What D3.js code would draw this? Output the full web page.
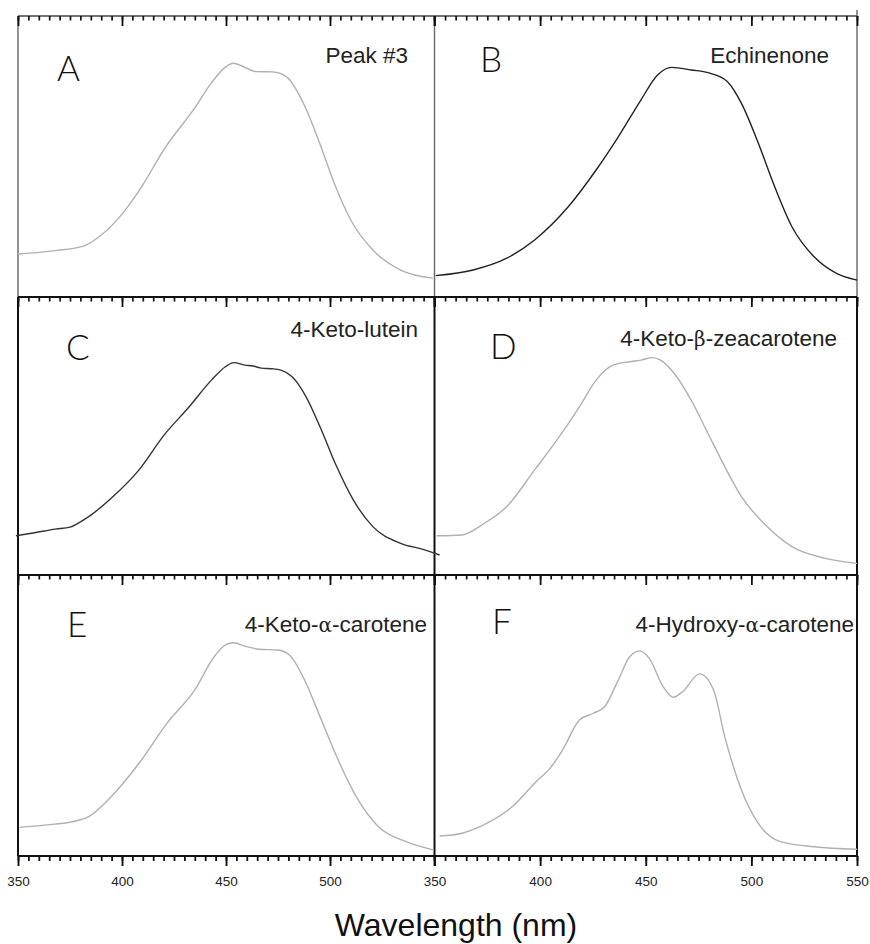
<!DOCTYPE html>
<html>
<head>
<meta charset="utf-8">
<script src="https://cdn.jsdelivr.net/npm/d3@7"></script>
<style>
  html, body { margin: 0; padding: 0; background: #fff; }
  svg { display: block; }
</style>
</head>
<body>
<svg id="chart" width="870" height="944"></svg>
<script>
// ---------- data (wavelength nm, relative absorbance) ----------
const panelLetters = ["A", "B", "C", "D", "E", "F"];
const panelNames = ["Peak #3", "Echinenone", "4-Keto-lutein", "4-Keto-β-zeacarotene", "4-Keto-α-carotene", "4-Hydroxy-α-carotene"];
const lineColors = ["#b0b0b0", "#222222", "#333333", "#b0b0b0", "#b0b0b0", "#b0b0b0"];

const spectrumA = [[350,0.153],[368,0.165],[381.5,0.181],[388,0.209],[399,0.286],[409.5,0.393],[420,0.523],[435,0.673],[443,0.762],[450,0.820],[453.7,0.832],[457.7,0.822],[464.4,0.802],[472.4,0.801],[479,0.784],[488,0.677],[495,0.548],[502,0.406],[510,0.274],[520.6,0.167],[534,0.096],[549.5,0.067]];
const spectrumB = [[350.6,0.076],[368.3,0.096],[384.2,0.138],[397.4,0.203],[413.3,0.321],[426.5,0.452],[437,0.570],[447.7,0.701],[455.6,0.790],[462.2,0.817],[471.5,0.808],[480.7,0.796],[488.7,0.766],[495.3,0.689],[503.3,0.547],[511,0.393],[519.2,0.250],[529.7,0.143],[540.3,0.084],[550,0.060]];
const spectrumC = [[349,0.141],[358,0.152],[368,0.165],[375,0.172],[378.8,0.186],[384,0.210],[394.8,0.276],[408.2,0.378],[420.3,0.504],[432.3,0.605],[443,0.701],[449.7,0.749],[453.7,0.764],[459,0.755],[463,0.752],[467,0.744],[472,0.742],[476.4,0.737],[481.8,0.713],[488.5,0.641],[495.2,0.533],[503.2,0.390],[511.2,0.270],[520.6,0.174],[534,0.114],[544.7,0.092],[552.7,0.072]];
const spectrumD = [[351,0.141],[363,0.144],[373.6,0.186],[384.2,0.246],[397.4,0.378],[408,0.486],[418.6,0.605],[426.5,0.701],[434.5,0.755],[442.4,0.767],[447.7,0.773],[453,0.782],[457,0.773],[463.5,0.725],[471.5,0.629],[479.4,0.510],[487.4,0.390],[495.3,0.282],[505.9,0.186],[519.2,0.102],[535,0.060],[550,0.042]];
const spectrumE = [[350.7,0.102],[362.8,0.110],[376,0.122],[384,0.140],[394.8,0.211],[408.2,0.330],[421.6,0.472],[435,0.591],[444.3,0.709],[449.7,0.751],[453.7,0.759],[459,0.747],[465.7,0.736],[475,0.733],[480.5,0.715],[488.5,0.615],[495.2,0.496],[503.2,0.354],[512.6,0.211],[523.3,0.104],[536.6,0.051],[550,0.021]];
const spectrumF = [[352.4,0.071],[363,0.081],[376.2,0.122],[386.8,0.175],[397.4,0.259],[405.3,0.318],[410.6,0.377],[418.6,0.484],[425.2,0.508],[430.5,0.531],[437,0.626],[442.4,0.709],[447.2,0.730],[451.6,0.704],[458.3,0.602],[463,0.565],[467.5,0.585],[475.5,0.648],[482.1,0.591],[487.4,0.425],[495.3,0.235],[503.3,0.116],[513.8,0.051],[529.7,0.033],[550,0.024]];
const spectra = [spectrumA, spectrumB, spectrumC, spectrumD, spectrumE, spectrumF];

const majorTicks = [350, 400, 450, 500, 550];
const minorTicks = d3.range(350, 551, 5);
const xAxisTitle = "Wavelength (nm)";

// ---------- layout ----------
const svg = d3.select("#chart");
const colX = [[18, 434], [434.5, 857]];
const rowY = [[16, 297], [297, 575], [575, 856]];

const xScales = colX.map(r => d3.scaleLinear().domain([350, 550]).range(r));
const yScales = rowY.map(r => d3.scaleLinear().domain([0, 1]).range([r[1], r[0]]));

// ---------- frame ----------
const frame = svg.append("g").attr("fill", "none");
rowY.forEach((ry, row) => {
  const vColor = row === 0 ? "#666" : "#111";
  const vWidth = row === 0 ? 1.4 : 2;
  [colX[0][0], colX[1][0], colX[1][1]].forEach((xv, k) => {
    frame.append("line")
      .attr("x1", xv).attr("x2", xv)
      .attr("y1", (row === 0 && k === 2) ? ry[0] - 6 : ry[0]).attr("y2", ry[1])
      .attr("stroke", vColor).attr("stroke-width", vWidth);
  });
  frame.append("line")
    .attr("x1", colX[0][0]).attr("x2", colX[1][1])
    .attr("y1", ry[0]).attr("y2", ry[0])
    .attr("stroke", row === 0 ? "#444" : "#111").attr("stroke-width", row === 0 ? 1.6 : 2);
});
frame.append("line")
  .attr("x1", colX[0][0]).attr("x2", colX[1][1])
  .attr("y1", rowY[2][1]).attr("y2", rowY[2][1])
  .attr("stroke", "#111").attr("stroke-width", 2);

// ---------- axes (ticks along the top of every panel, pointing in) ----------
function styleAxis(g, color, width) {
  g.select(".domain").remove();
  g.selectAll(".tick line").attr("stroke", color).attr("stroke-width", width);
}
rowY.forEach((ry, row) => {
  xScales.forEach((x, col) => {
    const gMinor = svg.append("g").attr("class", "axis-minor").attr("transform", `translate(0,${ry[0]})`)
      .call(d3.axisBottom(x).tickValues(minorTicks).tickSize(4.5).tickSizeOuter(0).tickFormat(() => ""));
    const gMajor = svg.append("g").attr("class", "axis-major").attr("transform", `translate(0,${ry[0]})`)
      .call(d3.axisBottom(x).tickValues(majorTicks).tickSize(10).tickSizeOuter(0).tickFormat(() => ""));
    styleAxis(gMinor, "#111", 1.7);
    styleAxis(gMajor, "#111", 1.8);
  });
});

// bottom axis with labels
xScales.forEach((x, col) => {
  const bottom = rowY[2][1];
  const gMinor = svg.append("g").attr("transform", `translate(0,${bottom})`)
    .call(d3.axisBottom(x).tickValues(minorTicks).tickSize(5).tickSizeOuter(0).tickFormat(() => ""));
  const gMajor = svg.append("g").attr("transform", `translate(0,${bottom})`)
    .call(d3.axisBottom(x).tickValues(majorTicks).tickSize(10).tickSizeOuter(0).tickPadding(10)
      .tickFormat(d => (col === 0 && d === 550) ? "" : d3.format("d")(d)));
  styleAxis(gMinor, "#111", 1.8);
  styleAxis(gMajor, "#111", 1.9);
  gMajor.selectAll("text")
    .attr("font-family", "'Liberation Sans', Arial, sans-serif")
    .attr("font-size", 13.5)
    .attr("fill", "#222");
});

// ---------- curves ----------
spectra.forEach((data, i) => {
  const col = i % 2, row = Math.floor(i / 2);
  const x = xScales[col], y = yScales[row];
  const line = d3.line().x(d => x(d[0])).y(d => y(d[1])).curve(d3.curveMonotoneX);
  svg.append("path")
    .datum(data)
    .attr("d", line)
    .attr("fill", "none")
    .attr("stroke", lineColors[i])
    .attr("stroke-width", 1.4)
    .attr("stroke-linejoin", "round");
});

// ---------- text ----------
const letterPos = [[57, 81], [480, 72], [66, 360], [490, 359], [67, 637], [492, 634]];
const namePos = [[408, 63], [829, 63], [418, 337], [837, 346], [427, 632], [854, 632]];

function addName(sel, text) {
  const parts = text.split(/([αβ])/);
  parts.forEach(p => {
    if (p === "") return;
    const t = sel.append("tspan").text(p);
    if (p === "α" || p === "β") t.attr("font-family", "'DejaVu Serif', 'Liberation Serif', serif").attr("font-size", 20);
  });
}

panelLetters.forEach((L, i) => {
  svg.append("text")
    .attr("x", letterPos[i][0]).attr("y", letterPos[i][1])
    .attr("font-family", "Lato, 'DejaVu Sans', sans-serif")
    .attr("font-weight", 300)
    .attr("font-size", 35)
    .attr("fill", "#111")
    .text(L);
  const t = svg.append("text")
    .attr("x", namePos[i][0]).attr("y", namePos[i][1])
    .attr("text-anchor", "end")
    .attr("font-family", "'Liberation Sans', Arial, sans-serif")
    .attr("font-size", 22.5)
    .attr("fill", "#222");
  addName(t, panelNames[i]);
});

svg.append("text")
  .attr("x", 456).attr("y", 936)
  .attr("text-anchor", "middle")
  .attr("font-family", "'Liberation Sans', Arial, sans-serif")
  .attr("font-size", 32)
  .attr("fill", "#111")
  .text(xAxisTitle);
</script>
</body>
</html>
